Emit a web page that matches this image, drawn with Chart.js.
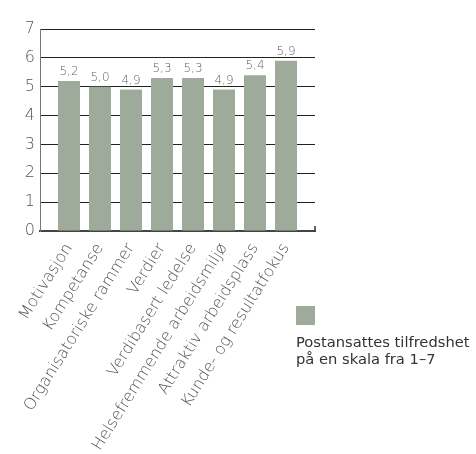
<!DOCTYPE html>
<html>
<head>
<meta charset="utf-8">
<script src="https://cdn.jsdelivr.net/npm/chart.js@4"></script>
<style>
  body { margin: 0; background: #fff; }
  #wrap { position: relative; width: 476px; height: 454px; }
  #legend { position: absolute; left: 296px; top: 306px; font-family: 'DejaVu Sans', sans-serif;
            font-size: 14.7px; color: #333; line-height: 17px; white-space: nowrap; }
  #legend .box { width: 19px; height: 19px; margin-bottom: 8px; }
</style>
</head>
<body>
<div id="wrap">
  <canvas id="chart" width="476" height="454"></canvas>
  <div id="legend"><div class="box"></div>Postansattes tilfredshet<br>på en skala fra 1–7</div>
</div>
<script>
const categories = ['Motivasjon', 'Kompetanse', 'Organisatoriske rammer', 'Verdier',
  'Verdibasert ledelse', 'Helsefremmende arbeidsmiljø', 'Attraktiv arbeidsplass', 'Kunde- og resultatfokus'];
const satisfaction = [5.2, 5.0, 4.9, 5.3, 5.3, 4.9, 5.4, 5.9];
const yTicks = [0, 1, 2, 3, 4, 5, 6, 7];

const barColor = '#9eab9b';
document.querySelector('#legend .box').style.background = barColor;

// value labels above the bars, with decimal comma
const valueLabels = {
  id: 'valueLabels',
  afterDatasetsDraw(chart) {
    const ctx = chart.ctx;
    const meta = chart.getDatasetMeta(0);
    ctx.save();
    ctx.font = '200 12px "DejaVu Sans"';
    ctx.fillStyle = '#666';
    ctx.textAlign = 'center';
    ctx.textBaseline = 'bottom';
    meta.data.forEach((bar, i) => {
      ctx.fillText(satisfaction[i].toFixed(1).replace('.', ','), bar.x, bar.y - 3);
    });
    // little tick at the right end of the x axis
    const a = chart.chartArea;
    ctx.strokeStyle = '#333';
    ctx.lineWidth = 1.5;
    ctx.beginPath();
    ctx.moveTo(a.right, a.bottom);
    ctx.lineTo(a.right, a.bottom - 5);
    ctx.stroke();
    ctx.restore();
  }
};

new Chart(document.getElementById('chart').getContext('2d'), {
  type: 'bar',
  data: {
    datasets: [{
      label: 'Postansattes tilfredshet på en skala fra 1–7',
      data: satisfaction.map((v, i) => ({x: i, y: v})),
      backgroundColor: barColor,
      barPercentage: 0.71,
      categoryPercentage: 1
    }]
  },
  options: {
    responsive: false,
    animation: false,
    layout: { padding: { left: 0, right: 161, top: 29, bottom: 0 } },
    plugins: { legend: { display: false }, tooltip: { enabled: false } },
    scales: {
      x: {
        type: 'linear',
        offset: false,
        min: -0.935,
        max: 7.935,
        afterBuildTicks: scale => { scale.ticks = categories.map((c, i) => ({value: i})); },
        afterFit: scale => { scale.height = 223; },
        ticks: {
          autoSkip: false,
          minRotation: 58,
          maxRotation: 58,
          padding: 1,
          color: '#555',
          font: { family: 'DejaVu Sans', size: 16, weight: 200 },
          callback: v => categories[v]
        },
        grid: { display: false },
        border: { color: '#444', width: 2 }
      },
      y: {
        min: 0,
        max: 7,
        afterBuildTicks: scale => { scale.ticks = yTicks.map(v => ({value: v})); },
        afterFit: scale => { scale.width = 40; },
        ticks: {
          padding: 5,
          color: '#555',
          font: { family: 'DejaVu Sans', size: 16, weight: 200 }
        },
        grid: { color: '#222', lineWidth: 1, drawTicks: false },
        border: { color: '#777', width: 1 }
      }
    }
  },
  plugins: [valueLabels]
});
</script>
</body>
</html>
